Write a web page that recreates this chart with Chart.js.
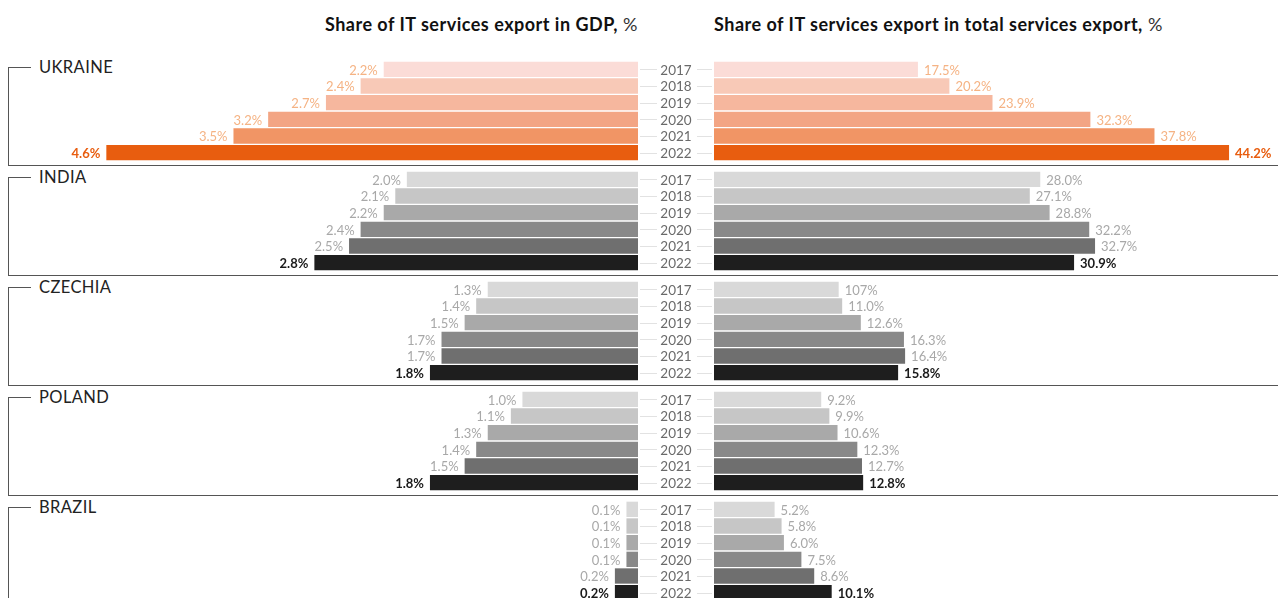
<!DOCTYPE html>
<html>
<head>
<meta charset="utf-8">
<script src="https://cdn.jsdelivr.net/npm/chart.js@4"></script>
<style>
  body { margin: 0; width: 1278px; height: 598px; overflow: hidden; background: #fff; font-family: Lato, sans-serif; position: relative; }
  .title { position: absolute; top: 13px; font-size: 18px; letter-spacing: 0.5px; color: #111; white-space: nowrap; }
  .title b { font-weight: 700; }
  .title span { color: #333; }
  .row { position: absolute; left: 0; width: 1278px; height: 110px; }
  .bracket { position: absolute; left: 8px; top: 6px; width: 1270px; height: 98px; border-left: 1.2px solid #555; border-bottom: 1.2px solid #555; }
  .bracket::before { content: ''; position: absolute; left: 0; top: 0; width: 22px; border-top: 1.2px solid #555; }
  .name { position: absolute; left: 39px; top: -4px; font-size: 16.5px; color: #222; letter-spacing: 0.4px; }
  .row canvas { position: absolute; top: 0; }
</style>
</head>
<body>
<div class="title" style="right:640px"><b>Share of IT services export in GDP,</b> <span>%</span></div>
<div class="title" style="left:714px"><b>Share of IT services export in total services export,</b> <span>%</span></div>
<div id="rows"></div>
<script>
const countries = ['UKRAINE', 'INDIA', 'CZECHIA', 'POLAND', 'BRAZIL'];
const years = ['2017', '2018', '2019', '2020', '2021', '2022'];

// share of IT services export in GDP, %
const gdpUkraine = [2.2, 2.4, 2.7, 3.2, 3.5, 4.6];
const gdpIndia = [2.0, 2.1, 2.2, 2.4, 2.5, 2.8];
const gdpCzechia = [1.3, 1.4, 1.5, 1.7, 1.7, 1.8];
const gdpPoland = [1.0, 1.1, 1.3, 1.4, 1.5, 1.8];
const gdpBrazil = [0.1, 0.1, 0.1, 0.1, 0.2, 0.2];

// share of IT services export in total services export, %
const servUkraine = [17.5, 20.2, 23.9, 32.3, 37.8, 44.2];
const servIndia = [28.0, 27.1, 28.8, 32.2, 32.7, 30.9];
const servCzechia = [10.7, 11.0, 12.6, 16.3, 16.4, 15.8];
const servPoland = [9.2, 9.9, 10.6, 12.3, 12.7, 12.8];
const servBrazil = [5.2, 5.8, 6.0, 7.5, 8.6, 10.1];

const gdpData = [gdpUkraine, gdpIndia, gdpCzechia, gdpPoland, gdpBrazil];
const servData = [servUkraine, servIndia, servCzechia, servPoland, servBrazil];

// label printed as in the source table
const labelOverrides = { 'CZECHIA-serv-0': '107%' };

const orangeShades = ['#fbdcd7', '#f8c9b7', '#f6b79e', '#f3a584', '#f19565', '#e85d0f'];
const greyShades = ['#d9d9d9', '#c6c6c6', '#a9a9a9', '#898989', '#6f6f6f', '#1e1e1e'];

const GDP_MAX = 5.52;
const SERV_MAX = 48.4;

const valueLabels = {
  id: 'valueLabels',
  afterDatasetsDraw(chart, args, opts) {
    const ctx = chart.ctx;
    const meta = chart.getDatasetMeta(0);
    const values = chart.data.datasets[0].data;
    ctx.save();
    ctx.textBaseline = 'middle';
    meta.data.forEach((bar, i) => {
      const last = i === values.length - 1;
      ctx.font = (last ? 'bold ' : '') + '13px Lato';
      ctx.fillStyle = last ? opts.strong : opts.soft;
      const key = opts.country + '-' + opts.side + '-' + i;
      const txt = labelOverrides[key] || values[i].toFixed(1) + '%';
      if (opts.side === 'gdp') {
        ctx.textAlign = 'right';
        ctx.fillText(txt, bar.x - 6, bar.y + 1);
      } else {
        ctx.textAlign = 'left';
        ctx.fillText(txt, bar.x + 6, bar.y + 1);
      }
    });
    ctx.restore();
  }
};

// years between the two halves, with short dashes on each side
const yearLabels = {
  id: 'yearLabels',
  afterDraw(chart) {
    const ctx = chart.ctx;
    const yScale = chart.scales.y;
    const cx = chart.chartArea.left - 38;
    ctx.save();
    ctx.font = '13.5px Lato';
    ctx.fillStyle = '#6a6a6a';
    ctx.textAlign = 'center';
    ctx.textBaseline = 'middle';
    ctx.strokeStyle = '#e2e2e2';
    ctx.lineWidth = 1;
    years.forEach((yr, i) => {
      const y = yScale.getPixelForValue(i);
      ctx.fillText(yr, cx, y + 1);
      ctx.beginPath();
      ctx.moveTo(2, Math.round(y) + 0.5);
      ctx.lineTo(cx - 19, Math.round(y) + 0.5);
      ctx.moveTo(cx + 21, Math.round(y) + 0.5);
      ctx.lineTo(chart.chartArea.left - 2, Math.round(y) + 0.5);
      ctx.stroke();
    });
    ctx.restore();
  }
};

function makeChart(canvas, values, colors, side, country, max, labelColors) {
  return new Chart(canvas, {
    type: 'bar',
    data: {
      labels: years,
      datasets: [{
        data: values,
        backgroundColor: colors,
        borderWidth: 0,
        barPercentage: 0.92,
        categoryPercentage: 1
      }]
    },
    options: {
      indexAxis: 'y',
      responsive: false,
      animation: false,
      layout: { padding: { left: side === 'serv' ? 76 : 0, top: 0, bottom: 0, right: 0 } },
      plugins: {
        legend: { display: false },
        tooltip: { enabled: false },
        valueLabels: { side: side, country: country, soft: labelColors[0], strong: labelColors[1] }
      },
      scales: {
        x: { display: false, min: 0, max: max, reverse: side === 'gdp' },
        y: { display: false }
      }
    },
    plugins: side === 'serv' ? [valueLabels, yearLabels] : [valueLabels]
  });
}

const rowsEl = document.getElementById('rows');
countries.forEach((name, c) => {
  const row = document.createElement('div');
  row.className = 'row';
  row.style.top = (60.5 + c * 110) + 'px';
  row.innerHTML =
    '<div class="bracket"></div>' +
    '<div class="name">' + name + '</div>';
  rowsEl.appendChild(row);

  const left = document.createElement('canvas');
  left.width = 638; left.height = 100;
  left.style.left = '0px';
  const right = document.createElement('canvas');
  right.width = 640; right.height = 100;
  right.style.left = '638px';
  row.appendChild(left);
  row.appendChild(right);

  const isUkraine = c === 0;
  const colors = isUkraine ? orangeShades : greyShades;
  const labelColors = isUkraine ? ['#f5b384', '#e85d0f'] : ['#a8a8a8', '#1a1a1a'];
  makeChart(left, gdpData[c], colors, 'gdp', name, GDP_MAX, labelColors);
  makeChart(right, servData[c], colors, 'serv', name, SERV_MAX, labelColors);
});
</script>
</body>
</html>
